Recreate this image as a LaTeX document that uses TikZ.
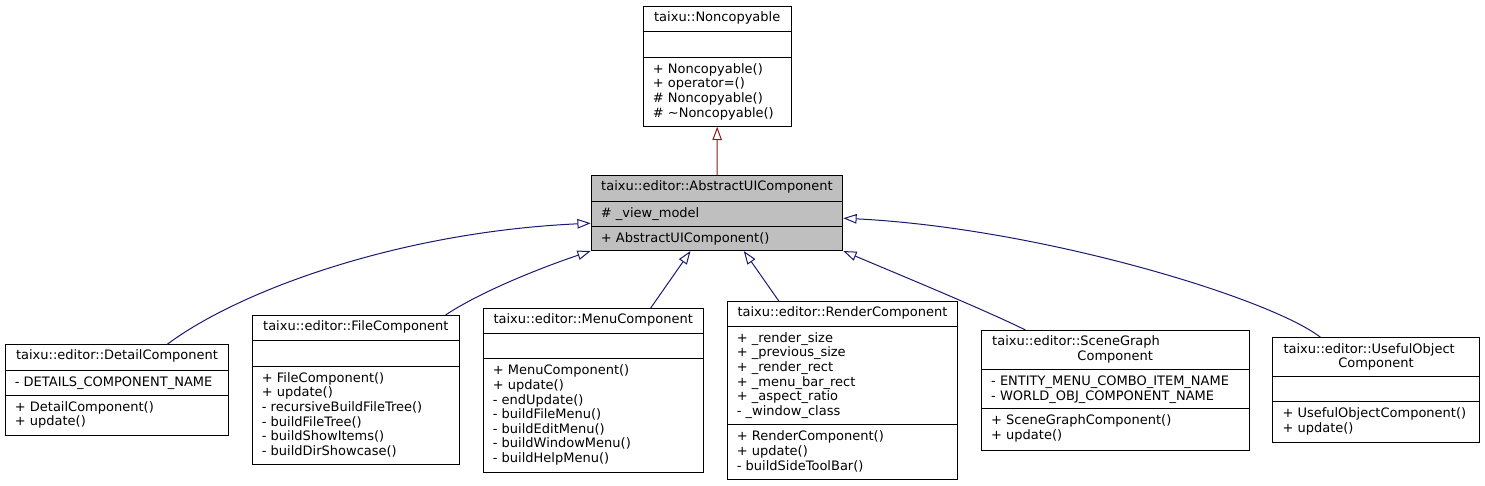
\documentclass[tikz,border=0pt]{standalone}
\usepackage{fontspec}
\setmainfont{DejaVu Sans}
\usetikzlibrary{arrows.meta}
\definecolor{edgeblue}{HTML}{191970}
\definecolor{edgered}{HTML}{8B1A1A}
\definecolor{rootfill}{HTML}{BFBFBF}
\newcommand\clines[1]{\begin{tabular}{@{}l@{}}#1\end{tabular}}
\begin{document}
\begin{tikzpicture}[x=1pt,y=-1pt,
  cls/.style={draw=black, line width=1pt, fill=white, inner sep=0pt, anchor=north west},
  root/.style={cls, fill=rootfill},
  sep/.style={draw=black, line width=1pt},
  txt/.style={inner sep=0pt, font=\fontsize{13}{14.6}\selectfont},
  ttl/.style={txt, anchor=north},
  mem/.style={txt, anchor=north west},
  inh/.style={draw=edgeblue, line width=1pt, -{Triangle[open, length=13.3pt, width=9.5pt]}},
  inhred/.style={draw=edgered, line width=1pt, -{Triangle[open, length=13.3pt, width=9.5pt]}}]
\useasboundingbox (0,0) rectangle (1485,485);

% ---------- Noncopyable ----------
\node[cls, minimum width=148pt, minimum height=119.7pt] (noncop) at (642.7,6) {};
\draw[sep] ([yshift=-25.7]noncop.north west) -- ([yshift=-25.7]noncop.north east);
\draw[sep] ([yshift=-51]noncop.north west) -- ([yshift=-51]noncop.north east);
\node[ttl] (noncopT) at ([yshift=-5.5]noncop.north) {taixu::Noncopyable};
\node[mem] (noncopM) at ([xshift=10, yshift=-56.8]noncop.north west)
  {\clines{+ Noncopyable()\\+ operator=()\\\# Noncopyable()\\\# \textasciitilde Noncopyable()}};

% ---------- AbstractUIComponent ----------
\node[root, minimum width=251.6pt, minimum height=75pt] (abs) at (590.7,175) {};
\draw[sep] ([yshift=-26]abs.north west) -- ([yshift=-26]abs.north east);
\draw[sep] ([yshift=-51]abs.north west) -- ([yshift=-51]abs.north east);
\node[ttl] (absT) at ([yshift=-5.5]abs.north) {taixu::editor::AbstractUIComponent};
\node[mem] (absA) at ([xshift=10, yshift=-31.8]abs.north west) {\clines{\# \_view\_model}};
\node[mem] (absM) at ([xshift=10, yshift=-56.8]abs.north west) {\clines{+ AbstractUIComponent()}};

% ---------- DetailComponent ----------
\node[cls, minimum width=223.6pt, minimum height=90.7pt] (detail) at (4.7,344.3) {};
\draw[sep] ([yshift=-25.7]detail.north west) -- ([yshift=-25.7]detail.north east);
\draw[sep] ([yshift=-50.7]detail.north west) -- ([yshift=-50.7]detail.north east);
\node[ttl] (detailT) at ([yshift=-5.5]detail.north) {taixu::editor::DetailComponent};
\node[mem] (detailA) at ([xshift=10, yshift=-31.5]detail.north west) {\clines{- DETAILS\_COMPONENT\_NAME}};
\node[mem] (detailM) at ([xshift=10, yshift=-56.5]detail.north west) {\clines{+ DetailComponent()\\+ update()}};

% ---------- FileComponent ----------
\node[cls, minimum width=207.3pt, minimum height=149pt] (file) at (251.7,315) {};
\draw[sep] ([yshift=-25.7]file.north west) -- ([yshift=-25.7]file.north east);
\draw[sep] ([yshift=-51]file.north west) -- ([yshift=-51]file.north east);
\node[ttl] (fileT) at ([yshift=-5.5]file.north) {taixu::editor::FileComponent};
\node[mem] (fileM) at ([xshift=10, yshift=-56.8]file.north west)
  {\clines{+ FileComponent()\\+ update()\\- recursiveBuildFileTree()\\- buildFileTree()\\- buildShowItems()\\- buildDirShowcase()}};

% ---------- MenuComponent ----------
\node[cls, minimum width=220pt, minimum height=163.4pt] (menu) at (482.7,308.3) {};
\draw[sep] ([yshift=-25]menu.north west) -- ([yshift=-25]menu.north east);
\draw[sep] ([yshift=-50.4]menu.north west) -- ([yshift=-50.4]menu.north east);
\node[ttl] (menuT) at ([yshift=-5.5]menu.north) {taixu::editor::MenuComponent};
\node[mem] (menuM) at ([xshift=10, yshift=-56.2]menu.north west)
  {\clines{+ MenuComponent()\\+ update()\\- endUpdate()\\- buildFileMenu()\\- buildEditMenu()\\- buildWindowMenu()\\- buildHelpMenu()}};

% ---------- RenderComponent ----------
\node[cls, minimum width=230.6pt, minimum height=178pt] (render) at (726.7,301) {};
\draw[sep] ([yshift=-25]render.north west) -- ([yshift=-25]render.north east);
\draw[sep] ([yshift=-123.6]render.north west) -- ([yshift=-123.6]render.north east);
\node[ttl] (renderT) at ([yshift=-5.5]render.north) {taixu::editor::RenderComponent};
\node[mem] (renderA) at ([xshift=10, yshift=-30.8]render.north west)
  {\clines{+ \_render\_size\\+ \_previous\_size\\+ \_render\_rect\\+ \_menu\_bar\_rect\\+ \_aspect\_ratio\\- \_window\_class}};
\node[mem] (renderM) at ([xshift=10, yshift=-129.4]render.north west)
  {\clines{+ RenderComponent()\\+ update()\\- buildSideToolBar()}};

% ---------- SceneGraphComponent ----------
\node[cls, minimum width=268pt, minimum height=120pt] (scene) at (981,330) {};
\draw[sep] ([yshift=-39.4]scene.north west) -- ([yshift=-39.4]scene.north east);
\draw[sep] ([yshift=-78.4]scene.north west) -- ([yshift=-78.4]scene.north east);
\node[mem] (sceneT) at ([xshift=11, yshift=-5.5]scene.north west)
  {\clines{taixu::editor::SceneGraph\\\makebox[246pt][c]{Component}}};
\node[mem] (sceneA) at ([xshift=10, yshift=-45.2]scene.north west)
  {\clines{- ENTITY\_MENU\_COMBO\_ITEM\_NAME\\- WORLD\_OBJ\_COMPONENT\_NAME}};
\node[mem] (sceneM) at ([xshift=10, yshift=-84.2]scene.north west)
  {\clines{+ SceneGraphComponent()\\+ update()}};

% ---------- UsefulObjectComponent ----------
\node[cls, minimum width=207pt, minimum height=104.4pt] (useful) at (1272.3,337.3) {};
\draw[sep] ([yshift=-39.4]useful.north west) -- ([yshift=-39.4]useful.north east);
\draw[sep] ([yshift=-64.4]useful.north west) -- ([yshift=-64.4]useful.north east);
\node[mem] (usefulT) at ([xshift=11, yshift=-5.5]useful.north west)
  {\clines{taixu::editor::UsefulObject\\\makebox[185pt][c]{Component}}};
\node[mem] (usefulM) at ([xshift=10, yshift=-70.2]useful.north west)
  {\clines{+ UsefulObjectComponent()\\+ update()}};

% ---------- inheritance connectors ----------
\draw[inhred] (abs.north) -- (noncop.south);
\draw[inh] ([xshift=50.2]detail.north) .. controls (240,290) and (400,232) .. ([yshift=-10.2]abs.west);
\draw[inh] ([xshift=89.7]file.north) .. controls (480,292) and (540,268) .. (abs.south west);
\draw[inh] ([xshift=57.3]menu.north) -- ([xshift=-26.5]abs.south);
\draw[inh] ([xshift=-63.7]render.north) -- ([xshift=26.8]abs.south);
\draw[inh] ([xshift=-90]scene.north) .. controls (985,310) and (900,275) .. (abs.south east);
\draw[inh] ([xshift=-55.8]useful.north) .. controls (1270,298) and (1040,228) .. ([yshift=-5.2]abs.east);
\end{tikzpicture}
\end{document}
